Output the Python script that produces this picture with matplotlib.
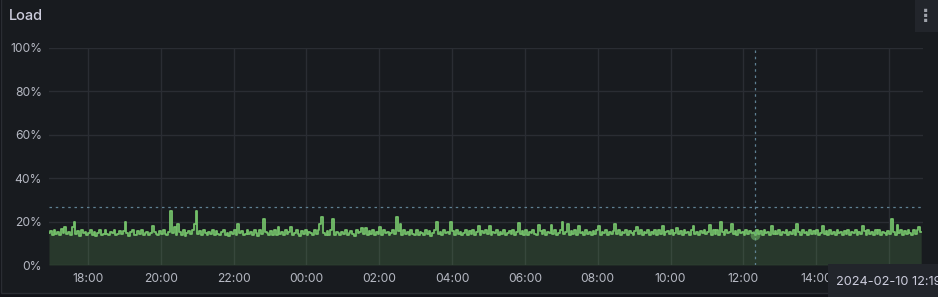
import matplotlib
matplotlib.use("Agg")
import matplotlib.pyplot as plt
import matplotlib.dates as mdates
from matplotlib.patches import Rectangle
import numpy as np
import pandas as pd

# ---- data (3-minute samples, % load) ----
start_time = "2024-02-09 16:56"
step_minutes = 3
load_pct = [
    14.8, 15.6, 13.9, 16.1, 14.3, 15.2, 13.6, 16.4, 14.7, 17.6, 14.1, 15.3, 13.8, 17.6, 19.8, 14.2, 15.7, 13.5, 16.0, 14.6,
    15.1, 13.7, 14.9, 16.2, 14.0, 15.4, 13.4, 14.8, 15.9, 13.9, 14.5, 16.0, 14.2, 13.6, 15.3, 14.7, 16.3, 13.8, 14.4, 15.5,
    14.1, 15.8, 19.8, 14.6, 13.5, 15.2, 16.1, 14.0, 13.7, 15.6, 14.4, 16.2, 13.9, 14.8, 15.4, 13.6, 14.9, 17.8, 15.0, 14.3,
    13.8, 15.7, 14.5, 16.0, 14.2, 13.6, 15.3, 24.9, 14.7, 17.5, 13.9, 18.9, 15.1, 14.0, 16.2, 13.5, 14.8, 15.6, 14.1, 16.3,
    19.0, 25.0, 14.4, 15.5, 13.7, 16.1, 14.6, 13.9, 15.2, 14.3, 16.0, 13.6, 15.8, 14.5, 13.8, 15.4, 16.2, 14.0, 14.9, 13.5,
    15.3, 14.2, 16.0, 13.8, 19.0, 14.7, 15.6, 13.6, 14.4, 16.3, 14.1, 15.0, 13.7, 15.9, 14.8, 13.5, 16.1, 14.3, 21.0, 15.2,
    14.6, 13.9, 15.7, 14.0, 16.2, 13.6, 17.7, 14.5, 15.4, 13.8, 16.0, 14.2, 15.1, 17.6, 13.7, 14.9, 16.1, 14.4, 13.5, 15.8,
    14.1, 16.3, 13.8, 15.2, 14.7, 13.6, 15.9, 14.3, 16.0, 19.0, 22.0, 14.6, 13.9, 15.5, 14.0, 16.2, 21.0, 13.7, 15.3, 14.8,
    13.6, 15.4, 14.5, 16.1, 13.9, 14.7, 15.8, 14.2, 13.5, 16.0, 14.9, 15.2, 17.0, 14.1, 17.0, 13.8, 15.6, 14.4, 16.2, 13.7,
    15.0, 14.3, 17.6, 13.9, 16.1, 14.6, 15.3, 13.6, 14.8, 16.0, 14.2, 22.0, 15.5, 19.0, 13.8, 16.3, 14.4, 15.1, 13.7, 15.9,
    14.5, 13.6, 16.2, 14.0, 15.4, 14.8, 13.9, 16.0, 14.3, 15.7, 13.5, 14.9, 16.1, 20.0, 14.2, 15.3, 13.8, 16.3, 14.6, 15.0,
    14.1, 20.0, 15.6, 13.7, 16.0, 14.4, 15.2, 13.9, 14.8, 16.2, 13.6, 15.5, 14.3, 16.1, 14.0, 15.0, 18.0, 13.8, 15.7, 14.6,
    16.0, 14.2, 18.0, 13.9, 15.4, 14.7, 16.3, 13.6, 15.1, 14.5, 16.0, 13.8, 14.9, 15.7, 14.1, 16.2, 13.7, 15.3, 19.3, 14.4,
    15.8, 14.0, 16.1, 13.6, 15.0, 14.6, 16.3, 14.2, 13.9, 18.5, 15.5, 14.3, 16.0, 13.7, 15.2, 14.8, 18.5, 14.1, 15.9, 13.8,
    14.7, 16.2, 20.0, 14.4, 15.1, 19.0, 13.6, 15.8, 14.2, 16.0, 13.9, 18.0, 14.6, 15.3, 13.7, 16.1, 14.5, 15.0, 13.8, 15.6,
    14.3, 16.0, 18.0, 13.9, 15.4, 14.8, 16.2, 13.6, 15.0, 14.4, 15.7, 19.0, 14.1, 16.1, 13.8, 15.2, 14.6, 16.3, 13.7, 15.5,
    14.9, 13.6, 15.8, 17.5, 14.2, 16.0, 13.9, 15.1, 14.7, 16.2, 13.8, 15.4, 14.4, 15.9, 13.7, 16.1, 14.5, 18.0, 14.0, 15.3,
    15.6, 14.1, 16.2, 13.8, 14.9, 17.2, 14.3, 15.5, 13.6, 16.0, 14.7, 15.2, 13.9, 16.3, 18.0, 14.4, 15.0, 13.7, 15.8, 14.6,
    16.1, 14.2, 15.4, 18.5, 13.8, 15.9, 14.5, 16.2, 14.0, 19.8, 15.1, 13.7, 16.0, 14.8, 15.3, 18.8, 14.3, 15.7, 13.9, 16.3,
    14.6, 15.2, 13.8, 16.0, 14.4, 15.6, 14.9, 14.7, 13.7, 16.1, 14.2, 15.5, 13.9, 16.2, 14.8, 15.0, 13.6, 18.0, 14.5, 15.8,
    14.1, 16.0, 13.8, 15.3, 14.6, 16.3, 13.7, 15.1, 14.4, 15.9, 14.0, 19.0, 15.4, 13.9, 16.1, 14.7, 15.2, 13.6, 16.0, 14.3,
    15.5, 14.2, 16.2, 13.8, 14.9, 18.0, 14.5, 15.7, 13.7, 16.0, 14.1, 15.3, 13.9, 16.1, 14.6, 15.0, 13.6, 15.8, 14.4, 16.2,
    13.9, 15.1, 14.7, 16.0, 13.7, 15.4, 14.3, 18.0, 15.6, 13.8, 16.1, 14.5, 15.0, 13.6, 15.9, 14.2, 16.3, 14.0, 15.2, 14.8,
    13.8, 15.7, 14.4, 21.0, 15.3, 13.9, 18.5, 14.6, 16.0, 13.7, 15.5, 14.1, 16.2, 14.8, 13.6, 15.9, 14.3, 16.1, 17.5, 15.4,
]
y_ticks = [0, 20, 40, 60, 80, 100]
y_tick_labels = ["0%", "20%", "40%", "60%", "80%", "100%"]
hover_time = "2024-02-10 12:19"
hover_value_y = 26.7
title = "Load"

# ---- styling ----
BG = "#181b1f"
GRID = "#2a2d33"
TEXT = "#ccccdc"
TICK = "#b5b8c2"
GREEN = "#73bf69"
CROSS = "#5f8193"

times = pd.date_range(start_time, periods=len(load_pct), freq=f"{step_minutes}min")
t0 = pd.Timestamp(start_time)
t1 = t0 + pd.Timedelta(hours=24)

W, H = 938, 297
fig = plt.figure(figsize=(W / 100, H / 100), dpi=100)
fig.patch.set_facecolor("#111217")
# panel body with subtle border on left/bottom
fig.patches.append(Rectangle((0.5 / W, 4 / H), 1.2, 1.2, transform=fig.transFigure,
                             facecolor=BG, edgecolor="#2a2d33", linewidth=1, zorder=-10))
plt.rcParams["font.family"] = ["Inter", "DejaVu Sans"]

ax = fig.add_axes([49 / W, (H - 265) / H, (923 - 49) / W, (265 - 48) / H])
ax.set_facecolor(BG)
ax.fill_between(times, load_pct, 0, step="mid", color=GREEN, alpha=0.18, linewidth=0)
ax.plot(times, load_pct, color=GREEN, linewidth=1.3, drawstyle="steps-mid")

ax.set_xlim(t0, t1)
ax.set_ylim(0, 100)
ax.set_yticks(y_ticks)
ax.set_yticklabels(y_tick_labels)
ax.xaxis.set_major_locator(mdates.HourLocator(byhour=range(0, 24, 2)))
ax.xaxis.set_major_formatter(mdates.DateFormatter("%H:%M"))
ax.tick_params(axis="both", length=0, colors=TICK, labelsize=8.7)
ax.tick_params(axis="y", pad=5)
ax.tick_params(axis="x", pad=6)
ax.grid(True, color=GRID, linewidth=1)
ax.set_axisbelow(True)
for s in ax.spines.values():
    s.set_visible(False)

# crosshair
ht = pd.Timestamp(hover_time)
ax.axvline(ht, color=CROSS, linewidth=0.9, linestyle=(0, (2, 3)), zorder=5)
ax.axhline(hover_value_y, color=CROSS, linewidth=0.9, linestyle=(0, (2, 3)), zorder=5)
idx = int(np.argmin(np.abs((times - ht).total_seconds())))
ax.plot([times[idx]], [load_pct[idx]], "o", color=GREEN, markersize=7, alpha=0.55,
        markeredgewidth=0, zorder=6)

# title
fig.text(9 / W, 1 - 16 / H, title, color=TEXT, fontsize=10.5, fontweight="medium",
         ha="left", va="center")

# menu button
fig.patches.append(Rectangle((915 / W, 1 - 32 / H), 23 / W, 32 / H, transform=fig.transFigure,
                             facecolor="#22252b", edgecolor="none", zorder=5))
fig.text(926 / W, 1 - 16 / H, "⋮", color="#a0a3ab", fontsize=12.5, ha="center", va="center",
         family="DejaVu Sans", fontweight="bold", zorder=6)

# tooltip
tax = fig.add_axes([828 / W, 0, (W - 828) / W, 33 / H])
tax.set_facecolor("#22252b")
tax.set_xticks([])
tax.set_yticks([])
for s in tax.spines.values():
    s.set_visible(False)
tax.text(8 / (W - 828), 1 - 18 / 33, hover_time, transform=tax.transAxes, color=TEXT,
         fontsize=9.2, ha="left", va="center")

fig.savefig("out.png", dpi=100, facecolor=fig.get_facecolor())
